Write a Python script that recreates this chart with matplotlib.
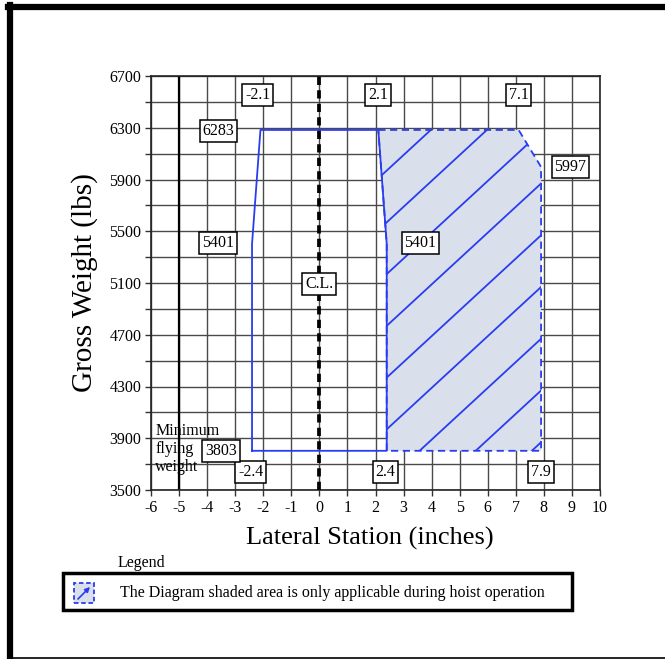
import matplotlib.pyplot as plt
import matplotlib.patches as mpatches
from matplotlib.lines import Line2D
import numpy as np

plt.rcParams['font.family'] = ['Liberation Serif', 'DejaVu Serif']

# normal operating envelope (lateral station in inches, gross weight in lbs)
normal_stations = [-2.4, -2.4, -2.1, 2.1, 2.4, 2.4]
normal_weights = [3803, 5401, 6283, 6283, 5401, 3803]

# extra envelope that only applies during hoist operation
hoist_stations = [2.1, 7.1, 7.9, 7.9, 2.4, 2.4]
hoist_weights = [6283, 6283, 5997, 3803, 3803, 5401]

station_labels = ['-2.1', '2.1', '7.1', '-2.4', '2.4', '7.9']
weight_labels = ['6283', '5401', '5401', '5997', '3803']
min_weight_note = ['Minimum', 'flying', 'weight']

x_ticks = list(range(-6, 11))
y_major = list(range(3500, 6701, 400))
y_minor = list(range(3500, 6701, 200))

BLUE = '#2a3cf0'
FILL = '#d9e0ec'
FS = 11.5


def plot_cg_envelope():
	fig = plt.figure(figsize=(6.65, 6.59), dpi=100)
	ax = fig.add_axes([151/665, 1 - 490/659, 449/665, 414/659])

	ax.set_xlim(-6, 10)
	ax.set_ylim(3500, 6700)
	ax.set_xticks(x_ticks)
	ax.set_xticklabels([str(t) for t in x_ticks])
	ax.set_yticks(y_major)
	ax.set_yticks(y_minor, minor=True)
	ax.tick_params(which='both', direction='out', length=4, width=1, color='#333333',
		labelsize=FS, pad=3)
	ax.grid(True, which='both', color='#4a4a4a', lw=1.0)
	ax.set_axisbelow(True)
	for s in ax.spines.values():
		s.set_color('#222222')
		s.set_linewidth(1.2)

	# heavier reference line at -5
	ax.axvline(-5, color='black', lw=1.6, zorder=1)

	# shaded hoist region with its hatching
	hoist = mpatches.Polygon(list(zip(hoist_stations, hoist_weights)), closed=True,
		fc=FILL, ec='none', zorder=2)
	ax.add_patch(hoist)
	base_w = min(hoist_weights)
	slope = 200.0
	for c in np.arange(3.57 - 14, 9, 2.0):
		xs = np.array([c, c + 20])
		ln, = ax.plot(xs, base_w + slope * (xs - c), color=BLUE, lw=1.3, zorder=3)
		ln.set_clip_path(hoist)
	ax.plot(hoist_stations + hoist_stations[:1], hoist_weights + hoist_weights[:1],
		color=BLUE, lw=1.3, ls=(0, (4, 2.5)), zorder=4)

	# normal envelope
	ax.plot(normal_stations + normal_stations[:1], normal_weights + normal_weights[:1],
		color=BLUE, lw=1.3, zorder=4)

	# aircraft centre line
	ax.axvline(0, color='black', lw=2.7, ls=(0, (2.2, 1.4)), zorder=5)

	box = dict(boxstyle='square,pad=0.18', fc='white', ec='black', lw=1.1)
	kw = dict(ha='center', va='center', fontsize=FS, bbox=box, zorder=6)
	for txt, x in zip(station_labels[:3], [-2.2, 2.1, 7.1]):
		ax.text(x, 6553, txt, **kw)
	for txt, x in zip(station_labels[3:], [-2.45, 2.35, 7.9]):
		ax.text(x, 3640, txt, **kw)
	for txt, (x, y) in zip(weight_labels, [(-3.6, 6275), (-3.6, 5410), (3.6, 5410),
			(8.95, 5997), (-3.5, 3800)]):
		ax.text(x, y, txt, **kw)
	ax.text(0, 5093, 'C.L.', **kw)
	for txt, y in zip(min_weight_note, [3958, 3817, 3678]):
		ax.text(-5.85, y, txt, ha='left', va='center', fontsize=FS, zorder=5)

	ax.set_xlabel('Lateral Station (inches)', fontsize=19, labelpad=10)
	ax.xaxis.set_label_coords(0.487, -0.09)
	ax.set_ylabel('Gross Weight (lbs)', fontsize=21, labelpad=8)

	# legend panel
	fig.text(118/665, 1 - 563/659, 'Legend', fontsize=FS, va='center', ha='left')
	fig.patches.append(mpatches.Rectangle((63/665, 1 - 610/659), 509/665, 37/659,
		transform=fig.transFigure, fc='white', ec='black', lw=2.5))
	fig.patches.append(mpatches.Rectangle((74/665, 1 - 603/659), 20/665, 20/659,
		transform=fig.transFigure, fc=FILL, ec=BLUE, lw=1.3, ls=(0, (2.5, 1.5))))
	fig.patches.append(mpatches.FancyArrowPatch((76/665, 1 - 601/659), (92/665, 1 - 585/659),
		transform=fig.transFigure, arrowstyle='-|>', mutation_scale=7, color=BLUE, lw=1.2))
	fig.text(120/665, 1 - 593/659,
		'The Diagram shaded area is only applicable during hoist operation',
		fontsize=FS, va='center', ha='left')

	# page frame
	fig.add_artist(Line2D([8/665, 1], [1 - 7/659, 1 - 7/659], transform=fig.transFigure,
		color='black', lw=4.5))
	fig.add_artist(Line2D([10/665, 10/665], [1 - 5/659, 0], transform=fig.transFigure,
		color='black', lw=4.5))
	fig.add_artist(Line2D([8/665, 1], [1 - 658/659, 1 - 658/659], transform=fig.transFigure,
		color='black', lw=1.2))

	fig.savefig('out.png', dpi=100)


if __name__ == '__main__':
	plot_cg_envelope()
